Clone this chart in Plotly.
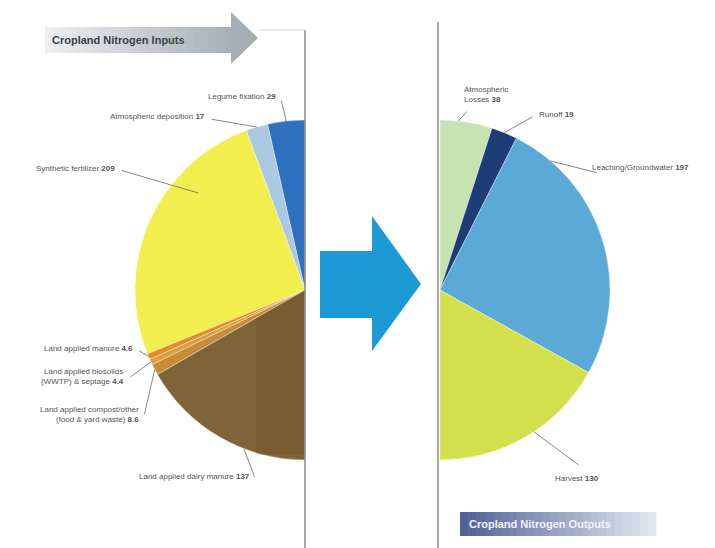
import math
import plotly.graph_objects as go

W, H = 715, 548

# ---------------- data ----------------
in_labels = ["Legume fixation", "Atmospheric deposition", "Synthetic fertilizer",
             "Land applied manure", "Land applied biosolids<br>(WWTP) & septage",
             "Land applied compost/other<br>(food & yard waste)", "Land applied dairy manure"]
in_values = [29, 17, 209, 4.6, 4.4, 8.6, 137]
in_colors = ["#2f6fbf", "#a9c9e2", "#f2ee4e", "#e58b26", "#d9a040", "#c98a3a", "#7f6438"]

out_labels = ["Atmospheric<br>Losses", "Runoff", "Leaching/Groundwater", "Harvest"]
out_values = [38, 19, 197, 130]
out_colors = ["#c6e4b2", "#1e3c78", "#5aa9d6", "#d4df4c"]

title_in = "Cropland Nitrogen Inputs"
title_out = "Cropland Nitrogen Outputs"

# ---------------- geometry (pixels) ----------------
R = 170
LC = (305, 290)   # left pie centre
RC = (440, 290)   # right pie centre
FONT = "Liberation Sans, Arial"


def px(x):
    return x / W


def py(y):
    return 1 - y / H


def domain(c):
    return dict(x=[px(c[0] - R), px(c[0] + R)], y=[py(c[1] + R), py(c[1] - R)])


def fmt(v):
    return ("%g" % v)


fig = go.Figure()

# left half-pie: hidden half first so that the visible slices run counterclockwise from 12 o'clock
tot_in = sum(in_values)
fig.add_trace(go.Pie(
    values=[tot_in] + in_values, labels=["_hidden_in"] + in_labels,
    sort=False, direction="counterclockwise", rotation=0,
    marker=dict(colors=["rgba(0,0,0,0)"] + in_colors,
                line=dict(color=["rgba(0,0,0,0)"] + ["rgba(255,255,255,0.6)"] * len(in_values), width=0.6)),
    textinfo="none", hoverinfo="label+value", domain=domain(LC), showlegend=False))

tot_out = sum(out_values)
fig.add_trace(go.Pie(
    values=out_values + [tot_out], labels=out_labels + ["_hidden_out"],
    sort=False, direction="clockwise", rotation=0,
    marker=dict(colors=out_colors + ["rgba(0,0,0,0)"],
                line=dict(color=["rgba(255,255,255,0.6)"] * len(out_values) + ["rgba(0,0,0,0)"], width=0.6)),
    textinfo="none", hoverinfo="label+value", domain=domain(RC), showlegend=False))

shapes = []
annotations = []


def strips(x0, x1, y0, y1, c0, c1, n=24):
    for i in range(n):
        t = i / (n - 1)
        col = "rgb(%d,%d,%d)" % tuple(int(c0[k] + (c1[k] - c0[k]) * t) for k in range(3))
        xa = x0 + (x1 - x0) * i / n
        xb = x0 + (x1 - x0) * (i + 1) / n + 0.6
        shapes.append(dict(type="rect", xref="paper", yref="paper", layer="below",
                           x0=px(xa), x1=px(xb), y0=py(y1), y1=py(y0),
                           fillcolor=col, line=dict(width=0)))


# darker shaded band over the right part of the brown slice (follows the slice's upper edge)
brown_start = 2 * math.pi * sum(in_values[:-1]) / (2 * tot_in)
band_x = 256
band_y = LC[1] + (LC[0] - band_x) * (-math.cos(brown_start)) / math.sin(brown_start)
shapes.append(dict(type="path", xref="paper", yref="paper", layer="above",
                   path="M %f,%f L %f,%f L %f,%f L %f,%f Z" % (
                       px(LC[0]), py(LC[1]), px(band_x), py(band_y),
                       px(band_x), py(455), px(LC[0]), py(455)),
                   fillcolor="rgba(70,50,20,0.12)", line=dict(width=0)))

# frame lines
shapes.append(dict(type="line", xref="paper", yref="paper", x0=px(305), x1=px(305),
                   y0=py(30), y1=py(548), line=dict(color="#8a8a8a", width=1.5), layer="above"))
shapes.append(dict(type="line", xref="paper", yref="paper", x0=px(258), x1=px(305),
                   y0=py(30), y1=py(30), line=dict(color="#d8d8d8", width=1), layer="above"))
shapes.append(dict(type="line", xref="paper", yref="paper", x0=px(438), x1=px(438),
                   y0=py(22), y1=py(548), line=dict(color="#8a8a8a", width=1.5), layer="above"))

# input title arrow (grey gradient)
strips(45, 232, 27, 53, (236, 238, 240), (170, 176, 184))
shapes.append(dict(type="path", xref="paper", yref="paper", layer="below",
                   path="M %f,%f L %f,%f L %f,%f Z" % (px(231), py(12), px(258), py(38), px(231), py(64)),
                   fillcolor="rgb(168,174,182)", line=dict(width=0)))

# output title box (blue gradient)
strips(460, 656, 512, 536, (82, 98, 150), (226, 231, 240))

# central blue arrow
shapes.append(dict(type="path", xref="paper", yref="paper", layer="above",
                   path="M %f,%f L %f,%f L %f,%f L %f,%f L %f,%f L %f,%f L %f,%f Z" % (
                       px(320), py(251), px(372), py(251), px(372), py(216), px(421), py(284),
                       px(372), py(351), px(372), py(318), px(320), py(318)),
                   fillcolor="#1c9ad6", line=dict(width=0)))

annotations.append(dict(xref="paper", yref="paper", x=px(50), y=py(40), xanchor="left", yanchor="middle",
                        text="<b>%s</b>" % title_in, showarrow=False,
                        font=dict(family=FONT, size=11, color="#3a4048")))
annotations.append(dict(xref="paper", yref="paper", x=px(467), y=py(524), xanchor="left", yanchor="middle",
                        text="<b>%s</b>" % title_out, showarrow=False,
                        font=dict(family=FONT, size=11, color="#f2f4fa")))


def edge_point(c, values, idx, sign, frac=0.5, rr=1.0):
    tot = sum(values) * 2
    start = sum(values[:idx])
    ang = 2 * math.pi * (start + values[idx] * frac) / tot
    x = c[0] + sign * rr * R * math.sin(ang)
    y = c[1] - rr * R * math.cos(ang)
    return x, y


def leader(ex, ey, tx, ty):
    annotations.append(dict(xref="paper", yref="paper", x=px(ex), y=py(ey),
                            ax=tx - ex, ay=ty - ey, axref="pixel", ayref="pixel",
                            text="", showarrow=True, arrowhead=0, standoff=0, startstandoff=0,
                            arrowwidth=0.8, arrowcolor="#666"))


# label placement: (slice frac, radius factor, label x, label y, anchor)
in_pos = [
    (0.5, 1.0, 278, 97, "right"),
    (0.5, 1.0, 207, 117, "right"),
    (0.3, 0.85, 117, 168, "right"),
    (0.5, 1.0, 135, 348, "right"),
    (0.5, 1.0, 126, 376, "right"),
    (0.5, 1.0, 141, 414, "right"),
    (0.65, 1.0, 252, 476, "right"),
]
for lab, v, (fr, rr, lx, ly, anc) in zip(in_labels, in_values, in_pos):
    ex, ey = edge_point(LC, in_values, in_labels.index(lab), -1, fr, rr)
    annotations.append(dict(xref="paper", yref="paper", x=px(lx), y=py(ly), xanchor=anc, yanchor="middle",
                            text="%s <b>%s</b>" % (lab, fmt(v)), showarrow=False, align="right",
                            font=dict(family=FONT, size=8, color="#555")))
    leader(ex, ey, lx + 3, ly + 2)

out_pos = [
    (0.35, 1.0, 462, 94, "left", 468, 110),
    (0.5, 1.0, 537, 114, "left", 534, 116),
    (0.15, 1.0, 590, 167, "left", 598, 173),
    (0.45, 1.0, 553, 478, "left", 580, 466),
]
for lab, v, (fr, rr, lx, ly, anc, tx, ty) in zip(out_labels, out_values, out_pos):
    ex, ey = edge_point(RC, out_values, out_labels.index(lab), 1, fr, rr)
    annotations.append(dict(xref="paper", yref="paper", x=px(lx), y=py(ly), xanchor=anc, yanchor="middle",
                            text="%s <b>%s</b>" % (lab, fmt(v)), showarrow=False, align="left",
                            font=dict(family=FONT, size=8, color="#555")))
    leader(ex, ey, tx, ty)

fig.update_layout(width=W, height=H, margin=dict(l=0, r=0, t=0, b=0),
                  paper_bgcolor="white", plot_bgcolor="white",
                  shapes=shapes, annotations=annotations, showlegend=False)
fig.write_html("out.html")
